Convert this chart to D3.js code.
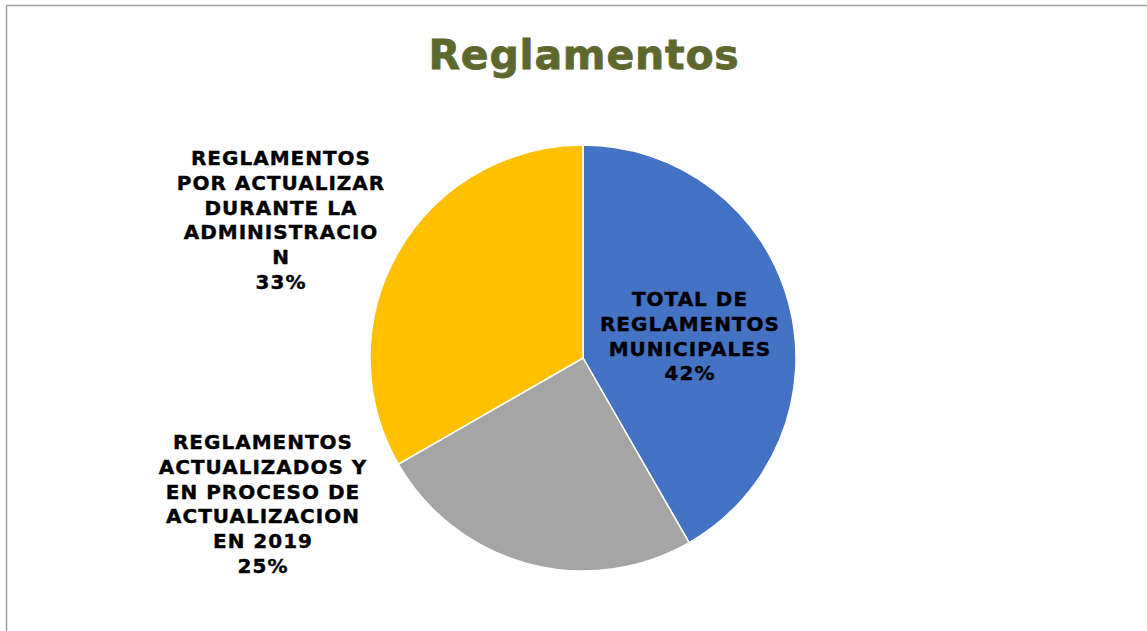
<!DOCTYPE html>
<html>
<head>
<meta charset="utf-8">
<script src="https://cdn.jsdelivr.net/npm/d3@7"></script>
<style>
  body { margin: 0; background: #fff; }
  svg text { font-family: Verdana, "DejaVu Sans", sans-serif; font-weight: bold; }
</style>
</head>
<body>
<div id="chart"></div>
<script>
var categories = [
    ['TOTAL DE', 'REGLAMENTOS', 'MUNICIPALES'],
    ['REGLAMENTOS', 'ACTUALIZADOS Y', 'EN PROCESO DE', 'ACTUALIZACION', 'EN 2019'],
    ['REGLAMENTOS', 'POR ACTUALIZAR', 'DURANTE LA', 'ADMINISTRACIO', 'N']
];
var values = [41.7, 25.0, 33.3];
var colors = ['#4472C4', '#A5A5A5', '#FFC000'];

var width = 1147, height = 631;
var cx = 583, cy = 358, radius = 213;
var lineH = 24.8;

// where each label block is centred (x) and where its first line sits (y)
var labelPos = [
    { x: 690, y: 306 },
    { x: 263, y: 449 },
    { x: 281, y: 165 }
];

var svg = d3.select('#chart')
    .append('svg')
    .attr('width', width)
    .attr('height', height);

// chart border
svg.append('rect')
    .attr('x', 6.5)
    .attr('y', 5.5)
    .attr('width', width + 10)
    .attr('height', height + 10)
    .attr('fill', 'none')
    .attr('stroke', '#A0A0A0')
    .attr('stroke-width', 1.5);

svg.append('text')
    .attr('x', cx + 1)
    .attr('y', 69)
    .attr('text-anchor', 'middle')
    .attr('font-size', 41)
    .attr('letter-spacing', 0.8)
    .attr('fill', '#5E682D')
    .attr('stroke', '#5E682D')
    .attr('stroke-width', 0.8)
    .text('Reglamentos');

var pie = d3.pie().sort(null).value(function(d) { return d; });
var arc = d3.arc().innerRadius(0).outerRadius(radius);
var total = d3.sum(values);

var g = svg.append('g').attr('transform', 'translate(' + cx + ',' + cy + ')');

g.selectAll('path')
    .data(pie(values))
    .enter()
    .append('path')
    .attr('d', arc)
    .attr('fill', function(d, i) { return colors[i]; })
    .attr('stroke', '#fff')
    .attr('stroke-width', 1.5);

categories.forEach(function(lines, i) {
    var all = lines.concat([Math.round(values[i] / total * 100) + '%']);
    var t = svg.append('text')
        .attr('text-anchor', 'middle')
        .attr('font-size', 20)
        .attr('letter-spacing', 1)
        .attr('fill', '#000')
        .attr('stroke', '#000')
        .attr('stroke-width', 0.4);
    all.forEach(function(s, j) {
        t.append('tspan')
            .attr('x', labelPos[i].x)
            .attr('y', labelPos[i].y + j * lineH)
            .text(s);
    });
});
</script>
</body>
</html>
